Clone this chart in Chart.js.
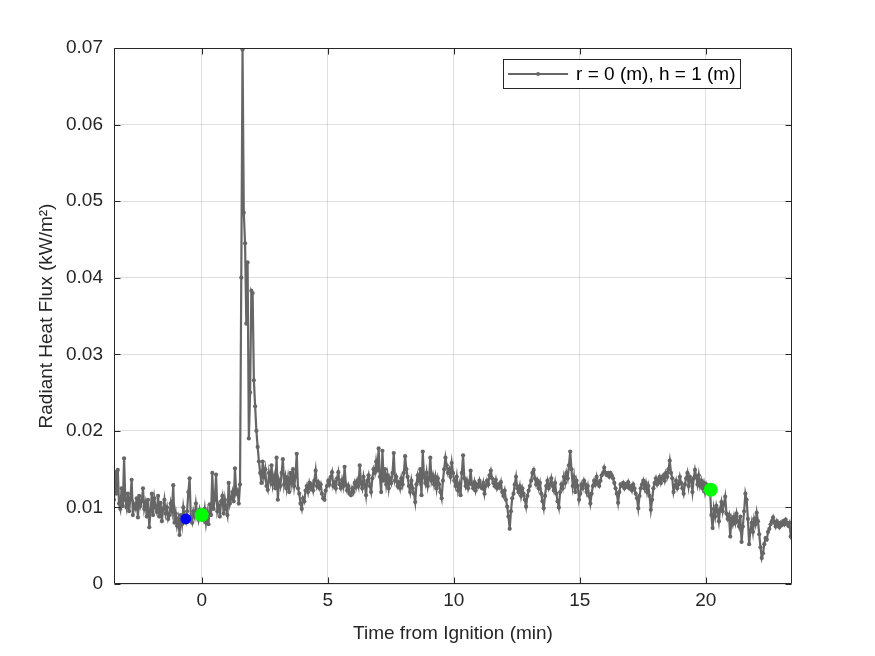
<!DOCTYPE html>
<html>
<head>
<meta charset="utf-8">
<title>Radiant Heat Flux</title>
<script src="https://cdn.jsdelivr.net/npm/chart.js@4.4.1/dist/chart.umd.min.js"></script>
<style>
  html, body { margin: 0; padding: 0; background: #fff; }
  #wrap { width: 875px; height: 656px; }
</style>
</head>
<body>
<div id="wrap"><canvas id="chart" width="875" height="656"></canvas></div>
<script>
// sampling of the gauge record (minutes from ignition)
const timeStart = -3.48;
const timeStep = 0.05;

// radiant heat flux (kW/m^2)
const fluxPreIgnition = [
  .0110,.0146,.0118,.0149,.0105,.0098,.0125,.0102,.0164,.0110,
  .0100,.0118,.0095,.0112,.0136,.0090,.0104,.0099,.0112,.0087,
  .0115,.0102,.0108,.0125,.0098,.0106,.0088,.0110,.0074,.0095,
  .0118,.0090,.0112,.0100,.0094,.0115,.0088,.0106,.0082,.0098,
  .0110,.0092,.0100,.0085,.0090,.0105,.0095,.0129,.0080,.0092,
  .0076,.0085,.0064,.0090,.0078,.0100,.0088,.0082,.0095,.0120,
  .0138,.0085,.0080,.0095,.0088,.0105,.0092,.0084,.0097,.0090,
  .0092,.0085,.0098,.0080,.0093,.0078,.0104,.0090,.0145,.0098,
  .0110,.0143,.0095,.0102,.0088,.0108,.0115,.0092,.0110,.0098,
  .0090,.0132,.0105,.0112,.0120,.0108,.0151,.0118,.0122,.0105
];
const fluxSpike = [
  .0130,.0400,.0698,.0485,.0445,.0340,.0420,.0190,.0250,.0383,
  .0380,.0266,.0232,.0200,.0179,.0160
];
const fluxSteady = [
  .0145,.0132,.0160,.0140,.0150,.0128,.0123,.0145,.0135,.0155,
  .0130,.0140,.0125,.0165,.0110,.0135,.0128,.0145,.0163,.0130,
  .0140,.0125,.0138,.0120,.0145,.0132,.0150,.0128,.0140,.0170,
  .0125,.0118,.0105,.0098,.0112,.0108,.0122,.0128,.0120,.0132,
  .0125,.0130,.0122,.0135,.0148,.0128,.0133,.0125,.0130,.0118,
  .0112,.0110,.0122,.0128,.0135,.0130,.0140,.0146,.0128,.0133,
  .0125,.0138,.0146,.0130,.0125,.0136,.0128,.0153,.0130,.0122,
  .0128,.0118,.0116,.0125,.0120,.0132,.0126,.0135,.0128,.0155,
  .0132,.0125,.0140,.0130,.0116,.0135,.0142,.0128,.0120,.0138,
  .0150,.0145,.0160,.0148,.0177,.0140,.0120,.0174,.0135,.0150,
  .0130,.0142,.0125,.0138,.0132,.0145,.0171,.0135,.0140,.0128,
  .0133,.0125,.0138,.0130,.0145,.0167,.0150,.0140,.0128,.0120,
  .0135,.0125,.0118,.0107,.0130,.0142,.0135,.0150,.0116,.0173,
  .0140,.0132,.0145,.0128,.0138,.0165,.0135,.0142,.0130,.0140,
  .0125,.0138,.0130,.0120,.0112,.0135,.0150,.0165,.0155,.0145,
  .0150,.0140,.0158,.0145,.0135,.0128,.0140,.0122,.0130,.0116,
  .0145,.0168,.0138,.0128,.0135,.0125,.0132,.0148,.0130,.0125,
  .0133,.0122,.0130,.0127,.0135,.0128,.0125,.0132,.0118,.0128,
  .0135,.0130,.0142,.0148,.0138,.0132,.0128,.0136,.0125,.0130,
  .0126,.0133,
  .0120,.0115,.0122,.0110,.0101,.0088,.0072,.0095,.0112,.0118,
  .0130,.0140,.0125,.0120,.0128,.0115,.0125,.0118,.0110,.0101,
  .0115,.0122,.0128,.0135,.0145,.0149,.0138,.0130,.0135,.0125,
  .0132,.0118,.0108,.0099,.0115,.0128,.0135,.0125,.0130,.0138,
  .0128,.0122,.0132,.0118,.0108,.0100,.0120,.0130,.0125,.0140,
  .0132,.0145,.0138,.0155,.0173,.0150,.0128,.0140,.0120,.0135,
  .0128,.0110,.0118,.0130,.0125,.0135,.0130,.0120,.0128,.0115,
  .0105,.0118,.0128,.0135,.0130,.0140,.0132,.0128,.0135,.0142,
  .0145,.0152,.0145,.0142,.0145,.0140,.0145,.0142,.0138,.0132,
  .0125,.0118,.0106,.0120,.0130,.0128,.0132,.0125,.0130,.0127,
  .0133,.0125,.0128,.0122,.0130,.0125,.0118,.0112,.0099,.0115,
  .0125,.0130,.0135,.0125,.0132,.0120,.0128,.0115,.0097,.0110,
  .0125,.0132,.0138,.0130,.0135,.0140,.0132,.0138,.0142,.0135,
  .0145,.0140,.0150,.0161,.0145,.0138,.0120,.0128,.0135,.0125,
  .0130,.0140,.0132,.0125,.0118,.0130,.0138,.0145,.0128,.0140,
  .0135,.0120,.0138,.0149,.0140,.0130,.0142,.0128,.0135,.0125,
  .0132,.0120,.0130,.0125,.0128,.0122
];
const fluxDecay = [
  .0090,.0073,.0098,.0088,.0102,.0095,.0082,.0098,.0107,.0095,
  .0105,.0114,.0092,.0085,.0090,.0062,.0085,.0078,.0088,.0080,
  .0092,.0082,.0075,.0088,.0055,.0075,.0095,.0118,.0110,.0085,
  .0052,.0070,.0080,.0068,.0085,.0078,.0093,.0082,.0065,.0048,
  .0034,.0040,.0052,.0060,.0058,.0068,.0072,.0078,.0082,.0087,
  .0080,.0075,.0082,.0078,.0074,.0080,.0077,.0082,.0078,.0084,
  .0080,.0076,.0080,.0062,.0060
];

// event markers
const blueMarkTime = [-0.63];
const blueMarkFlux = [0.0085];
const greenMarkTime = [0.0, 20.2];
const greenMarkFlux = [0.0090, 0.0123];

const xTicks = [0, 5, 10, 15, 20];
const yTicks = [0, 0.01, 0.02, 0.03, 0.04, 0.05, 0.06, 0.07];
const seriesLabel = 'r = 0 (m), h = 1 (m)';

const flux = fluxPreIgnition.concat(fluxSpike, fluxSteady, fluxDecay);
const lineData = flux.map((v, i) => ({ x: +(timeStart + i * timeStep).toFixed(3), y: v }));
const bluePts = blueMarkTime.map((t, i) => ({ x: t, y: blueMarkFlux[i] }));
const greenPts = greenMarkTime.map((t, i) => ({ x: t, y: greenMarkFlux[i] }));

const axisColor = '#262626';
const gridColor = 'rgba(38,38,38,0.15)';
const lineGray = '#666666';
const fontSize = 19;

Chart.defaults.font.family = "'Liberation Sans', Arial, Helvetica, sans-serif";
Chart.defaults.color = axisColor;

// MATLAB-like box, inward ticks and the legend
const matlabFrame = {
  id: 'matlabFrame',
  afterDraw(chart) {
    const { ctx, chartArea: a, scales: { x, y } } = chart;
    ctx.save();
    ctx.strokeStyle = axisColor;
    ctx.lineWidth = 1;
    const L = Math.round(a.left) + 0.5, R = Math.round(a.right) - 0.5;
    const T = Math.round(a.top) + 0.5, B = Math.round(a.bottom) - 0.5;
    ctx.beginPath();
    ctx.rect(L, T, R - L, B - T);
    const tl = 6;
    xTicks.forEach(v => {
      const px = Math.round(x.getPixelForValue(v)) + 0.5;
      ctx.moveTo(px, B); ctx.lineTo(px, B - tl);
      ctx.moveTo(px, T); ctx.lineTo(px, T + tl);
    });
    yTicks.forEach(v => {
      const py = Math.round(y.getPixelForValue(v)) + 0.5;
      ctx.moveTo(L, py); ctx.lineTo(L + tl, py);
      ctx.moveTo(R, py); ctx.lineTo(R - tl, py);
    });
    ctx.stroke();

    // legend box
    ctx.font = fontSize + "px 'Liberation Sans', Arial, sans-serif";
    const tw = ctx.measureText(seriesLabel).width;
    const boxR = Math.round(a.right) - 51.5;
    const boxT = Math.round(a.top) + 11.5;
    const boxH = 29;
    const textX = boxR - 5 - tw;
    const lineR = textX - 8, lineL = lineR - 60;
    const boxL = Math.round(lineL) - 4.5;
    ctx.fillStyle = '#ffffff';
    ctx.fillRect(boxL, boxT, boxR - boxL, boxH);
    ctx.strokeStyle = axisColor;
    ctx.strokeRect(boxL, boxT, boxR - boxL, boxH);
    const midY = boxT + boxH / 2;
    ctx.strokeStyle = lineGray;
    ctx.lineWidth = 2;
    ctx.beginPath();
    ctx.moveTo(lineL, midY); ctx.lineTo(lineR, midY);
    ctx.stroke();
    ctx.fillStyle = lineGray;
    ctx.beginPath();
    ctx.arc((lineL + lineR) / 2, midY, 2, 0, Math.PI * 2);
    ctx.fill();
    ctx.fillStyle = '#000000';
    ctx.textBaseline = 'middle';
    ctx.textAlign = 'left';
    ctx.fillText(seriesLabel, textX, midY + 1);
    ctx.restore();
  }
};

const ctx = document.getElementById('chart').getContext('2d');
new Chart(ctx, {
  type: 'line',
  data: {
    datasets: [
      { label: 'green', data: greenPts, showLine: false, pointRadius: 7, pointBackgroundColor: '#00ff00', pointBorderWidth: 0, order: 0 },
      { label: 'blue', data: bluePts, showLine: false, pointRadius: 5.5, pointBackgroundColor: '#0000ff', pointBorderWidth: 0, order: 0 },
      {
        label: seriesLabel, data: lineData, order: 1,
        borderColor: lineGray, borderWidth: 2.2, tension: 0,
        pointRadius: 2.1, pointBackgroundColor: lineGray, pointBorderWidth: 0
      }
    ]
  },
  options: {
    responsive: false,
    animation: false,
    devicePixelRatio: 1,
    layout: { padding: { top: 48, right: 83, left: 0, bottom: 0 } },
    plugins: { legend: { display: false }, tooltip: { enabled: false } },
    scales: {
      x: {
        type: 'linear', min: -3.48, max: 23.42,
        afterBuildTicks: s => { s.ticks = xTicks.map(v => ({ value: v })); },
        afterFit: s => { s.height = 72; },
        grid: { color: gridColor, drawTicks: false },
        border: { display: false },
        ticks: { font: { size: fontSize }, padding: 5, maxRotation: 0, autoSkip: false },
        title: { display: true, text: 'Time from Ignition (min)', font: { size: fontSize }, padding: { top: 0, bottom: 11 } }
      },
      y: {
        type: 'linear', min: 0, max: 0.07,
        afterBuildTicks: s => { s.ticks = yTicks.map(v => ({ value: v })); },
        afterFit: s => { s.width = 114; },
        grid: { color: gridColor, drawTicks: false },
        border: { display: false },
        ticks: { font: { size: fontSize }, padding: 11, callback: v => String(+v.toFixed(2)) },
        title: { display: true, text: 'Radiant Heat Flux (kW/m²)', font: { size: fontSize }, padding: { top: 35, bottom: 0 } }
      }
    }
  },
  plugins: [matlabFrame]
});
</script>
</body>
</html>
